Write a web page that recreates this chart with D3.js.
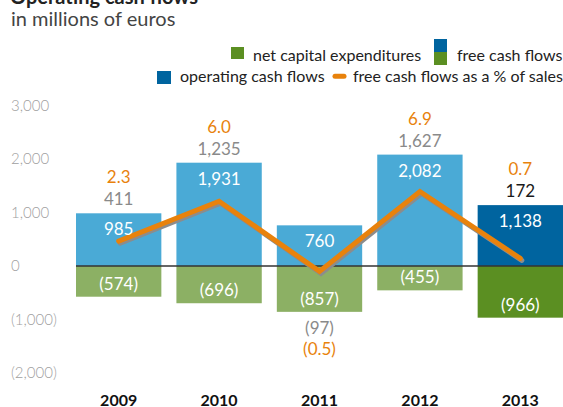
<!DOCTYPE html>
<html>
<head>
<meta charset="utf-8">
<script src="https://cdn.jsdelivr.net/npm/d3@7"></script>
<style>
  body { margin: 0; background: #fff; }
  svg { font-family: Lato, "Open Sans", sans-serif; display: block; }
</style>
</head>
<body>
<svg width="563" height="407"></svg>
<script>
const years = ["2009", "2010", "2011", "2012", "2013"];
const operatingCash = [985, 1931, 760, 2082, 1138];
const capex = [-574, -696, -857, -455, -966];
const freeCash = [411, 1235, -97, 1627, 172];
const fcfPct = [2.3, 6.0, -0.5, 6.9, 0.7];
const yTicks = [-2000, -1000, 0, 1000, 2000, 3000];

const lightBlue = "#4aaad6", darkBlue = "#00649f";
const lightGreen = "#8cb064", darkGreen = "#5b8f22";
const orange = "#e8820c", shadow = "#8c8c8c";

const svg = d3.select("svg");

const x = d3.scaleBand().domain(years).range([76, 563]).paddingInner(0.15).paddingOuter(0);
const y = d3.scaleLinear().domain([-2000, 3000]).range([373, 105.5]);
const y2 = d3.scaleLinear().domain([0, 10]).range([y(0), y(0) - 108]);

const fmt = d3.format(",");
const paren = v => v < 0 ? "(" + fmt(-v) + ")" : fmt(v);
const pctFmt = v => v < 0 ? "(" + (-v).toFixed(1) + ")" : v.toFixed(1);
const last = years.length - 1;

// title
svg.append("text").attr("x", 10).attr("y", 4)
    .attr("font-size", 20).attr("font-weight", 700).attr("fill", "#222")
    .text("Operating cash flows");
svg.append("text").attr("x", 11).attr("y", 26)
    .attr("font-size", 20).attr("fill", "#444")
    .text("in millions of euros");

// legend
const leg = svg.append("g").attr("font-size", 16).attr("fill", "#222");
leg.append("rect").attr("x", 231).attr("y", 47).attr("width", 13).attr("height", 12).attr("fill", darkGreen);
leg.append("text").attr("x", 253).attr("y", 55.7).attr("dy", "0.35em").text("net capital expenditures");
leg.append("rect").attr("x", 434).attr("y", 39).attr("width", 13).attr("height", 13).attr("fill", darkBlue);
leg.append("rect").attr("x", 434).attr("y", 52).attr("width", 13).attr("height", 13).attr("fill", darkGreen);
leg.append("text").attr("x", 457).attr("y", 55.7).attr("dy", "0.35em").text("free cash flows");
leg.append("rect").attr("x", 157).attr("y", 71).attr("width", 14).attr("height", 13).attr("fill", darkBlue);
leg.append("text").attr("x", 180).attr("y", 76.7).attr("dy", "0.35em").text("operating cash flows");
leg.append("line").attr("x1", 335).attr("x2", 344).attr("y1", 76.2).attr("y2", 76.2)
    .attr("stroke", orange).attr("stroke-width", 5).attr("stroke-linecap", "round");
leg.append("text").attr("x", 353).attr("y", 76.7).attr("dy", "0.35em").text("free cash flows as a % of sales");

// y axis
const yAxis = svg.append("g").attr("transform", "translate(11,0)")
    .call(d3.axisLeft(y).tickValues(yTicks).tickSize(0).tickFormat(paren));
yAxis.select(".domain").remove();
yAxis.selectAll("text").attr("x", 0).attr("text-anchor", "start")
    .attr("font-family", "Lato, sans-serif").attr("font-size", 15).attr("font-weight", 300).attr("fill", "#a0a0a0");

// bars
const barColor = (i, light, dark) => i === last ? dark : light;
svg.append("g").selectAll("rect").data(years).join("rect")
    .attr("x", d => x(d)).attr("width", x.bandwidth())
    .attr("y", (d, i) => y(operatingCash[i]))
    .attr("height", (d, i) => y(0) - y(operatingCash[i]))
    .attr("fill", (d, i) => barColor(i, lightBlue, darkBlue));
svg.append("g").selectAll("rect").data(years).join("rect")
    .attr("x", d => x(d)).attr("width", x.bandwidth())
    .attr("y", y(0))
    .attr("height", (d, i) => y(capex[i]) - y(0))
    .attr("fill", (d, i) => barColor(i, lightGreen, darkGreen));

// zero line
svg.append("line").attr("x1", x.range()[0]).attr("x2", x.range()[1])
    .attr("y1", y(0)).attr("y2", y(0)).attr("stroke", "#333").attr("stroke-width", 1.3);

// percentage line with shadow
const line = d3.line().x((d, i) => x(years[i]) + x.bandwidth() / 2).y(d => y2(d));
svg.append("path").datum(fcfPct).attr("d", line)
    .attr("transform", "translate(1.5,2)")
    .attr("fill", "none").attr("stroke", shadow).attr("stroke-width", 5)
    .attr("stroke-linecap", "round").attr("stroke-linejoin", "miter");
svg.append("path").datum(fcfPct).attr("d", line)
    .attr("fill", "none").attr("stroke", orange).attr("stroke-width", 5)
    .attr("stroke-linecap", "round").attr("stroke-linejoin", "miter");

// labels
const cx = d => x(d) + x.bandwidth() / 2;
const labels = svg.append("g").attr("font-size", 17).attr("text-anchor", "middle");
labels.selectAll(".op").data(years).join("text")
    .attr("x", cx).attr("y", (d, i) => y(operatingCash[i]) + 16).attr("dy", "0.35em")
    .attr("fill", "#fff").text((d, i) => paren(operatingCash[i]));
labels.selectAll(".cap").data(years).join("text")
    .attr("x", cx).attr("y", (d, i) => y(capex[i]) - 13).attr("dy", "0.35em")
    .attr("fill", "#fff").text((d, i) => paren(capex[i]));
labels.selectAll(".fcf").data(years).join("text")
    .attr("x", cx)
    .attr("y", (d, i) => freeCash[i] >= 0 ? y(operatingCash[i]) - 14 : y(capex[i]) + 16)
    .attr("dy", "0.35em")
    .attr("fill", (d, i) => i === last ? "#1a1a1a" : "#8a8a8a")
    .text((d, i) => paren(freeCash[i]));
labels.selectAll(".pct").data(years).join("text")
    .attr("x", cx)
    .attr("y", (d, i) => fcfPct[i] >= 0 ? y(operatingCash[i]) - 36 : y(capex[i]) + 37)
    .attr("dy", "0.35em")
    .attr("fill", orange)
    .text((d, i) => pctFmt(fcfPct[i]));

// x axis
const xAxis = svg.append("g").attr("transform", "translate(0,392)")
    .call(d3.axisBottom(x).tickSize(0));
xAxis.select(".domain").remove();
xAxis.selectAll("text").attr("font-family", "Lato, sans-serif").attr("font-size", 16)
    .attr("font-weight", 700).attr("fill", "#111").attr("dy", "0.35em").attr("y", 8);
</script>
</body>
</html>
